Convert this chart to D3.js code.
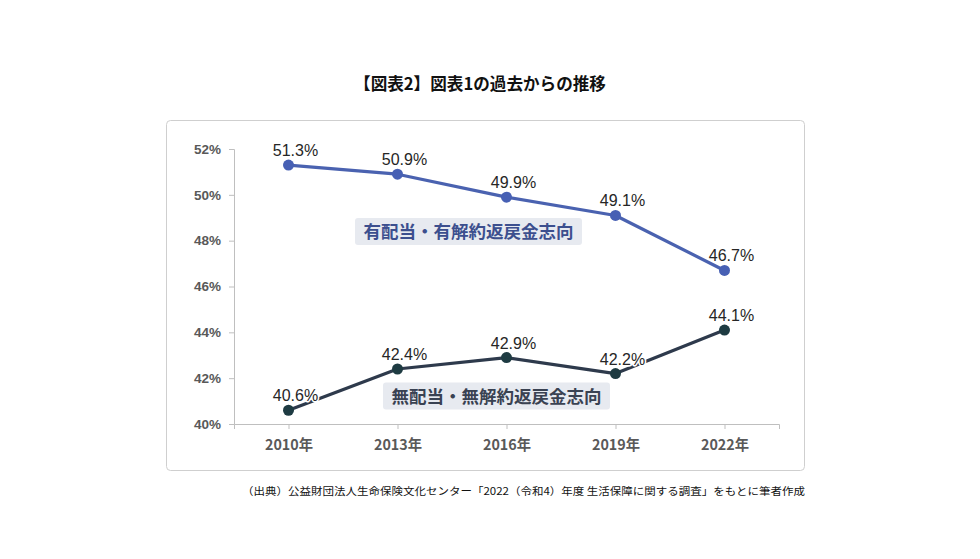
<!DOCTYPE html>
<html><head><meta charset="utf-8">
<script src="https://cdn.jsdelivr.net/npm/d3@7"></script>
<style>body{margin:0;background:#fff;}svg{display:block;}</style>
</head><body>
<svg id="c" width="980" height="559"></svg>
<script>
const categories = ["2010年","2013年","2016年","2019年","2022年"];
const seriesA = [51.3, 50.9, 49.9, 49.1, 46.7];
const seriesB = [40.6, 42.4, 42.9, 42.2, 44.1];
const yTicks = [40, 42, 44, 46, 48, 50, 52];
const labelA = "有配当・有解約返戻金志向";
const labelB = "無配当・無解約返戻金志向";
const title = "【図表2】図表1の過去からの推移";
const source = "（出典）公益財団法人生命保険文化センター「2022（令和4）年度 生活保障に関する調査」をもとに筆者作成";

const svg = d3.select("#c");
const font = "'Noto Sans CJK JP', 'Noto Sans', sans-serif";

svg.append("text").attr("x", 480).attr("y", 90).attr("text-anchor","middle")
  .attr("font-family", font).attr("font-weight","bold").attr("font-size",16.6).attr("fill","#111").text(title);

svg.append("rect").attr("x",166.5).attr("y",120.5).attr("width",638).attr("height",350).attr("rx",4)
  .attr("fill","#fff").attr("stroke","#cfcfcf").attr("stroke-width",1);

const x = d3.scalePoint().domain(categories).range([234, 779]).padding(0.5);
const y = d3.scaleLinear().domain([40, 52]).range([424, 149]);

// y axis
const gy = svg.append("g").attr("transform","translate(234,0)")
  .call(d3.axisLeft(y).tickValues(yTicks).tickFormat(d => d + "%").tickSize(5).tickPadding(8));
gy.select(".domain").attr("stroke","#bfbfbf");
gy.selectAll(".tick line").attr("stroke","#bfbfbf");
gy.selectAll("text").attr("font-family","'Liberation Sans', Arial, sans-serif").attr("font-weight","bold")
  .attr("font-size",13.5).attr("fill","#595959");

// x axis
const gx = svg.append("g").attr("transform","translate(0,424)")
  .call(d3.axisBottom(x).tickSize(5).tickSizeOuter(5).tickPadding(11));
gx.select(".domain").attr("stroke","#bfbfbf");
gx.selectAll(".tick line").attr("stroke","#bfbfbf");
gx.selectAll("text").attr("font-family", font).attr("font-weight","bold")
  .attr("font-size",14.3).attr("fill","#595959");

const labelLayer = [];
function drawSeries(vals, lineColor, dotColor){
  const line = d3.line().x((d,i)=>x(categories[i])).y(d=>y(d));
  svg.append("path").datum(vals).attr("d", line).attr("fill","none")
    .attr("stroke", lineColor).attr("stroke-width",3.2).attr("stroke-linejoin","round");
  svg.append("g").selectAll("circle").data(vals).join("circle")
    .attr("cx",(d,i)=>x(categories[i])).attr("cy",d=>y(d)).attr("r",5.5).attr("fill",dotColor);
  labelLayer.push(vals);
}
drawSeries(seriesA, "#4a62b0", "#4760b4");
drawSeries(seriesB, "#2e3a4c", "#1e3b42");
labelLayer.forEach(vals => {
  svg.append("g").selectAll("text").data(vals).join("text")
    .attr("x",(d,i)=>x(categories[i])+7).attr("y",d=>y(d)-9).attr("text-anchor","middle")
    .attr("font-family","'Liberation Sans', Arial, sans-serif").attr("font-size",16).attr("fill","#262626")
    .attr("stroke","#fff").attr("stroke-width",3).attr("paint-order","stroke").attr("stroke-linejoin","round")
    .text(d=>d.toFixed(1)+"%");
});

function boxLabel(text, cx, cy, w, color){
  svg.append("rect").attr("x",cx-w/2).attr("y",cy-13.5).attr("width",w).attr("height",27).attr("rx",3)
    .attr("fill","#e7eaf0");
  svg.append("text").attr("x",cx).attr("y",cy+6.5).attr("text-anchor","middle")
    .attr("font-family", font).attr("font-weight","bold").attr("font-size",17.5).attr("fill",color).text(text);
}
boxLabel(labelA, 468.5, 231.5, 227, "#3c4f8e");
boxLabel(labelB, 496.5, 396, 227, "#3a4252");

svg.append("text").attr("x",805).attr("y",495).attr("text-anchor","end")
  .attr("font-family", font).attr("font-size",10.5).attr("fill","#111")
  .attr("textLength",563).attr("lengthAdjust","spacingAndGlyphs").text(source);
</script>
</body></html>
